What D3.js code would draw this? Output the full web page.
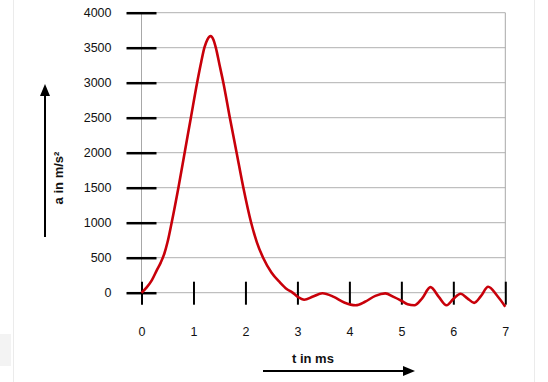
<!DOCTYPE html>
<html>
<head>
<meta charset="utf-8">
<script src="https://cdn.jsdelivr.net/npm/d3@7"></script>
<style>
  html, body { margin: 0; padding: 0; background: #fff; }
  svg { display: block; font-family: "Liberation Sans", Arial, sans-serif; }
</style>
</head>
<body>
<svg id="chart" width="548" height="382"></svg>
<script>
// ---- data ----
const timeMs = [0, 0.1, 0.2, 0.3, 0.37, 0.44, 0.5, 0.58, 0.71, 0.83, 0.95, 1.07, 1.15, 1.21, 1.27, 1.33, 1.38, 1.43, 1.5, 1.575, 1.7, 1.83, 1.96, 2.11, 2.22, 2.34, 2.5, 2.66, 2.8, 2.9, 3.0, 3.13, 3.3, 3.48, 3.7, 3.9, 4.12, 4.3, 4.5, 4.69, 4.85, 5.0, 5.12, 5.25, 5.4, 5.56, 5.72, 5.87, 6.0, 6.14, 6.27, 6.4, 6.53, 6.67, 6.84, 7.0];
const accel = [0, 75, 180, 330, 430, 560, 720, 1000, 1500, 2000, 2500, 3000, 3300, 3500, 3620, 3665, 3620, 3500, 3260, 3000, 2500, 2000, 1500, 1000, 720, 500, 290, 150, 50, 5, -55, -100, -55, -8, -60, -140, -180, -130, -45, -10, -60, -115, -165, -180, -80, 80, -60, -180, -90, -15, -80, -145, -50, 85, -40, -200];
const yTicks = [0, 500, 1000, 1500, 2000, 2500, 3000, 3500, 4000];
const xTicks = [0, 1, 2, 3, 4, 5, 6, 7];
const xTitle = "t in ms";
const yTitle = "a in m/s²";

const svg = d3.select("#chart");
svg.append("rect").attr("width", 548).attr("height", 382).attr("fill", "#fff");

// faint page frame
svg.append("line").attr("x1", 13.5).attr("x2", 13.5).attr("y1", 0).attr("y2", 382).attr("stroke", "#ebebeb");
svg.append("line").attr("x1", 534.5).attr("x2", 534.5).attr("y1", 0).attr("y2", 382).attr("stroke", "#ebebeb");
svg.append("rect").attr("x", 0).attr("y", 334).attr("width", 11).attr("height", 32).attr("fill", "#f3f3f3");

const x = d3.scaleLinear().domain([0, 7]).range([141.5, 505.3]);
const y = d3.scaleLinear().domain([0, 4000]).range([292.7, 12.7]);

// grid lines
const grid = svg.append("g");
grid.selectAll("line.h").data(yTicks).join("line")
  .attr("class", "h")
  .attr("x1", x(0)).attr("x2", x(7))
  .attr("y1", d => y(d)).attr("y2", d => y(d))
  .attr("stroke", "#b0b0b0").attr("stroke-width", 1);
grid.selectAll("line.v").data([0, 7]).join("line")
  .attr("class", "v")
  .attr("x1", d => x(d)).attr("x2", d => x(d))
  .attr("y1", y(4000)).attr("y2", y(0))
  .attr("stroke", "#a8a8a8").attr("stroke-width", 1);

// y axis
const yAxis = svg.append("g")
  .attr("transform", `translate(${x(0)},0)`)
  .call(d3.axisLeft(y).tickValues(yTicks).tickSize(0).tickPadding(30).tickFormat(d3.format("d")));
yAxis.select(".domain").remove();
yAxis.selectAll(".tick text").attr("font-size", 12.5).attr("fill", "#111").attr("font-family", "Liberation Sans, Arial, sans-serif");
yAxis.selectAll(".tick line").attr("x1", -15).attr("x2", 15).attr("stroke", "#000").attr("stroke-width", 2.5);

// x axis
const xAxis = svg.append("g")
  .attr("transform", `translate(0,${y(0)})`)
  .call(d3.axisBottom(x).tickValues(xTicks).tickSize(0).tickPadding(34).tickFormat(d3.format("d")));
xAxis.select(".domain").remove();
xAxis.selectAll(".tick text").attr("font-size", 12.5).attr("fill", "#111").attr("font-family", "Liberation Sans, Arial, sans-serif");
xAxis.selectAll(".tick line").attr("y1", -11).attr("y2", 12).attr("stroke", "#000").attr("stroke-width", 2);

// data line
const pts = timeMs.map((t, i) => [t, accel[i]]);
svg.append("path")
  .datum(pts)
  .attr("fill", "none")
  .attr("stroke", "#c8000a")
  .attr("stroke-width", 2.6)
  .attr("stroke-linejoin", "round")
  .attr("d", d3.line().x(d => x(d[0])).y(d => y(d[1])).curve(d3.curveMonotoneX));

// y-axis arrow + title
svg.append("line").attr("x1", 45).attr("x2", 45).attr("y1", 237).attr("y2", 94).attr("stroke", "#000").attr("stroke-width", 2);
svg.append("path").attr("d", "M45,84 L40,96 L50,96 Z").attr("fill", "#000");
svg.append("text")
  .attr("transform", "translate(63,178) rotate(-90)")
  .attr("text-anchor", "middle")
  .attr("font-size", 13).attr("font-weight", "bold").attr("fill", "#111")
  .text(yTitle);

// x-axis arrow + title
svg.append("line").attr("x1", 263).attr("x2", 405).attr("y1", 371).attr("y2", 371).attr("stroke", "#000").attr("stroke-width", 2);
svg.append("path").attr("d", "M415,371 L403,366 L403,376 Z").attr("fill", "#000");
svg.append("text")
  .attr("x", 292).attr("y", 363)
  .attr("font-size", 13).attr("font-weight", "bold").attr("fill", "#111")
  .text(xTitle);
</script>
</body>
</html>
